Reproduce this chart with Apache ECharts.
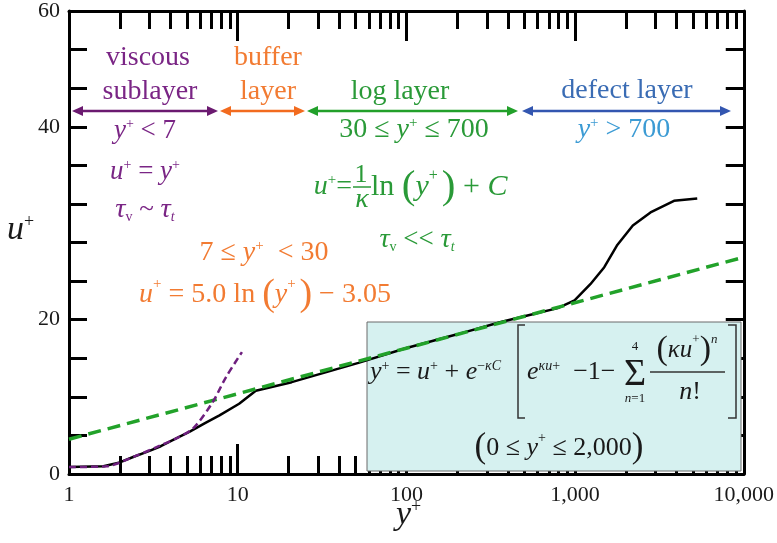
<!DOCTYPE html>
<html>
<head>
<meta charset="utf-8">
<script src="https://cdn.jsdelivr.net/npm/echarts@6/dist/echarts.min.js"></script>
<style>
  html, body { margin: 0; padding: 0; background: #fff; }
  #chart { width: 777px; height: 543px; }
</style>
</head>
<body>
<div id="chart"></div>
<script>
// values (y+ on x, u+ on y)
const profileY = [1, 1.6, 2.0, 2.4, 3.0, 3.5, 4.2, 5.2, 6.4, 7.8, 10.2, 12.8, 20.9, 52, 99, 200, 363, 560, 790, 993, 1232, 1490, 1770, 2200, 2800, 3860, 5300];
const profileU = [0.9, 1.0, 1.5, 2.2, 3.0, 3.6, 4.5, 5.5, 6.6, 7.6, 9.1, 10.8, 11.9, 14.4, 16.3, 18.1, 19.7, 20.7, 21.5, 22.5, 24.6, 26.8, 29.6, 32.2, 33.9, 35.4, 35.7];
const logLawY = [1, 100, 10000];
const logLawU = [4.5, 16.3, 28.1];
const linearY = [1, 1.67, 2.4, 3.4, 4.5, 5.5, 7.1, 8.5, 10.6];
const linearU = [0.9, 1.0, 2.2, 3.6, 4.8, 6.0, 9.3, 12.5, 15.8];
const xTickLabels = ['1', '10', '100', '1,000', '10,000'];
const yTickValues = [0, 20, 45, 60];
const yTickLabels = ['0', '20', '40', '60'];

const SERIF = '"Liberation Serif", "Times New Roman", serif';
const PURPLE = '#7a2585', ORANGE = '#f27b32', GREEN = '#2a9a38', BLUE = '#3a6cb4', LBLUE = '#3c9bd4', INK = '#1a1a1a';

function zip(a, b) { return a.map((v, i) => [v, b[i]]); }

function richSet(size, color) {
  const f = (st, sz) => st + ' ' + sz + 'px ' + SERIF;
  const small = Math.round(size * 0.52);
  return {
    r: { font: f('normal', size), fill: color },
    i: { font: f('italic', size), fill: color },
    g: { font: f('italic', size * 1.05), fill: color },
    s: { font: f('normal', small), fill: color, verticalAlign: 'top' },
    si: { font: f('italic', small), fill: color, verticalAlign: 'top' },
    sb: { font: f('normal', small), fill: color, verticalAlign: 'bottom' },
    sbi: { font: f('italic', small), fill: color, verticalAlign: 'bottom' },
    p: { font: f('normal', Math.round(size * 1.35)), fill: color, lineHeight: Math.round(size * 1.3) }
  };
}

function label(x, y, text, color, size, align) {
  return {
    type: 'text', x: x, y: y, z: 20,
    style: {
      text: text, fill: color, font: size + 'px ' + SERIF,
      rich: richSet(size, color),
      textAlign: align || 'center', align: align || 'center',
      textVerticalAlign: 'middle', verticalAlign: 'middle'
    }
  };
}

function arrow(x1, x2, y, color) {
  const h = 11, w = 5;
  return [
    { type: 'line', z: 20, shape: { x1: x1 + h - 2, y1: y, x2: x2 - h + 2, y2: y }, style: { stroke: color, lineWidth: 2.5 } },
    { type: 'polygon', z: 20, shape: { points: [[x1, y], [x1 + h, y - w], [x1 + h, y + w]] }, style: { fill: color } },
    { type: 'polygon', z: 20, shape: { points: [[x2, y], [x2 - h, y - w], [x2 - h, y + w]] }, style: { fill: color } }
  ];
}

function poly(points) {
  return { type: 'polyline', z: 20, shape: { points: points }, style: { stroke: '#333', lineWidth: 1.5, fill: null } };
}

const chart = echarts.init(document.getElementById('chart'));

const xBase = {
  type: 'log', logBase: 10, min: 1, max: 10000,
  axisLine: { onZero: false, lineStyle: { color: '#000', width: 3 } },
  axisTick: { inside: true, length: 30, lineStyle: { color: '#000', width: 3 } },
  minorTick: { show: true, splitNumber: 9, length: 18, lineStyle: { color: '#000', width: 3 } },
  splitLine: { show: false },
  minorSplitLine: { show: false }
};
const yBase = {
  type: 'value', min: 0, max: 60, interval: 5,
  axisLine: { show: true, onZero: false, lineStyle: { color: '#000', width: 3 } },
  axisTick: { show: true, inside: true, length: 18, lineStyle: { color: '#000', width: 3 } },
  splitLine: { show: false }
};

const graphics = [
  // equation box
  { type: 'rect', z: 1, shape: { x: 367, y: 322, width: 374, height: 149 }, style: { fill: '#d6f1f0', stroke: '#6a6a6a', lineWidth: 1 } },

  ...arrow(72, 218, 111, '#6b1a70'),
  ...arrow(220, 305, 111, '#f26b1f'),
  ...arrow(307, 518, 111, '#22a02a'),
  ...arrow(522, 731, 111, '#3356b0'),

  label(148, 58, '{r|viscous}', PURPLE, 28),
  label(150, 92, '{r|sublayer}', PURPLE, 28),
  label(145, 131, '{i|y}{s|+}{r| < 7}', PURPLE, 27),
  label(145, 172, '{i|u}{s|+}{r| = }{i|y}{s|+}', PURPLE, 27),
  label(145, 210, '{g|τ}{sb|v}{r| ~ }{g|τ}{sbi|t}', PURPLE, 27),

  label(268, 58, '{r|buffer}', ORANGE, 28),
  label(268, 92, '{r|layer}', ORANGE, 28),
  label(264, 253, '{r|7 ≤ }{i|y}{s|+}{r|  < 30}', ORANGE, 28),
  label(265, 295, '{i|u}{s|+}{r| = 5.0 ln }{p|(}{i|y}{s|+ }{p|)}{r| − 3.05}', ORANGE, 28),

  label(400, 92, '{r|log layer}', GREEN, 28),
  label(414, 130, '{r|30 ≤ }{i|y}{s|+}{r| ≤ 700}', GREEN, 28),
  label(352, 187, '{i|u}{s|+}{r|=}', GREEN, 28, 'right'),
  label(361, 175, '{r|1}', GREEN, 26),
  label(362, 200, '{i|κ}', GREEN, 28),
  { type: 'line', z: 20, shape: { x1: 353, y1: 187, x2: 371, y2: 187 }, style: { stroke: GREEN, lineWidth: 1.5 } },
  label(371, 187, '{r|ln }{p|(}{i|y}{s|+ }{p|)}{r| + }{i|C}', GREEN, 30, 'left'),
  label(417, 240, '{g|τ}{sb|v}{r| << }{g|τ}{sbi|t}', GREEN, 27),

  label(627, 91, '{r|defect layer}', BLUE, 28),
  label(624, 130, '{i|y}{s|+}{r| > 700}', LBLUE, 28),

  // formula inside the box
  label(370, 372, '{i|y}{s|+}{r| = }{i|u}{s|+}{r| + }{i|e}{s|−}{si|κC}', INK, 26, 'left'),
  poly([[525, 325], [518, 325], [518, 418], [525, 418]]),
  label(527, 372, '{i|e}{si|κu}{s|+}{r|  −1−}', INK, 26, 'left'),
  label(635, 375, '{r|Σ}', INK, 38),
  label(635, 347, '{r|4}', INK, 13),
  label(635, 399, '{i|n}{r|=1}', INK, 13),
  label(687, 350, '{p|(}{i|κu}{s|+}{p|)}{si|n}', INK, 25),
  { type: 'line', z: 20, shape: { x1: 650, y1: 372, x2: 725, y2: 372 }, style: { stroke: '#333', lineWidth: 1.5 } },
  label(690, 392, '{i|n}{r|!}', INK, 26),
  poly([[728, 325], [736, 325], [736, 418], [728, 418]]),
  label(559, 448, '{p|(}{r|0 ≤ }{i|y}{s|+}{r| ≤ 2,000}{p|)}', INK, 26),

  // axis titles
  label(7, 230, '{i|u}{s|+}', INK, 34, 'left'),
  label(396, 515, '{i|y}{s|+}', INK, 34, 'left')
];

const option = {
  animation: false,
  grid: { left: 69, right: 30, top: 10, bottom: 69 },
  xAxis: [
    Object.assign({}, xBase, {
      position: 'bottom',
      axisLabel: {
        color: INK, fontFamily: SERIF, fontSize: 22, margin: 10,
        formatter: v => xTickLabels[Math.round(Math.log10(v))] || ''
      }
    }),
    Object.assign({}, xBase, { position: 'top', axisLabel: { show: false } })
  ],
  yAxis: [
    Object.assign({}, yBase, {
      position: 'left',
      axisLabel: {
        color: INK, fontFamily: SERIF, fontSize: 22, margin: 9,
        formatter: v => {
          const k = yTickValues.indexOf(v);
          return k < 0 ? '' : yTickLabels[k];
        }
      }
    }),
    Object.assign({}, yBase, { position: 'right', axisLabel: { show: false } })
  ],
  graphic: { elements: graphics },
  series: [
    {
      name: 'profile', type: 'line', data: zip(profileY, profileU), showSymbol: false, z: 3,
      lineStyle: { color: '#000', width: 2.5 }
    },
    {
      name: 'log law', type: 'line', data: zip(logLawY, logLawU), showSymbol: false, z: 4,
      lineStyle: { color: '#22a22a', width: 3.5, type: [13, 7] }
    },
    {
      name: 'viscous', type: 'line', data: zip(linearY, linearU), showSymbol: false, smooth: 0.3, z: 4,
      lineStyle: { color: '#6e1f7e', width: 2.5, type: [7, 4] }
    }
  ]
};
chart.setOption(option);
</script>
</body>
</html>
